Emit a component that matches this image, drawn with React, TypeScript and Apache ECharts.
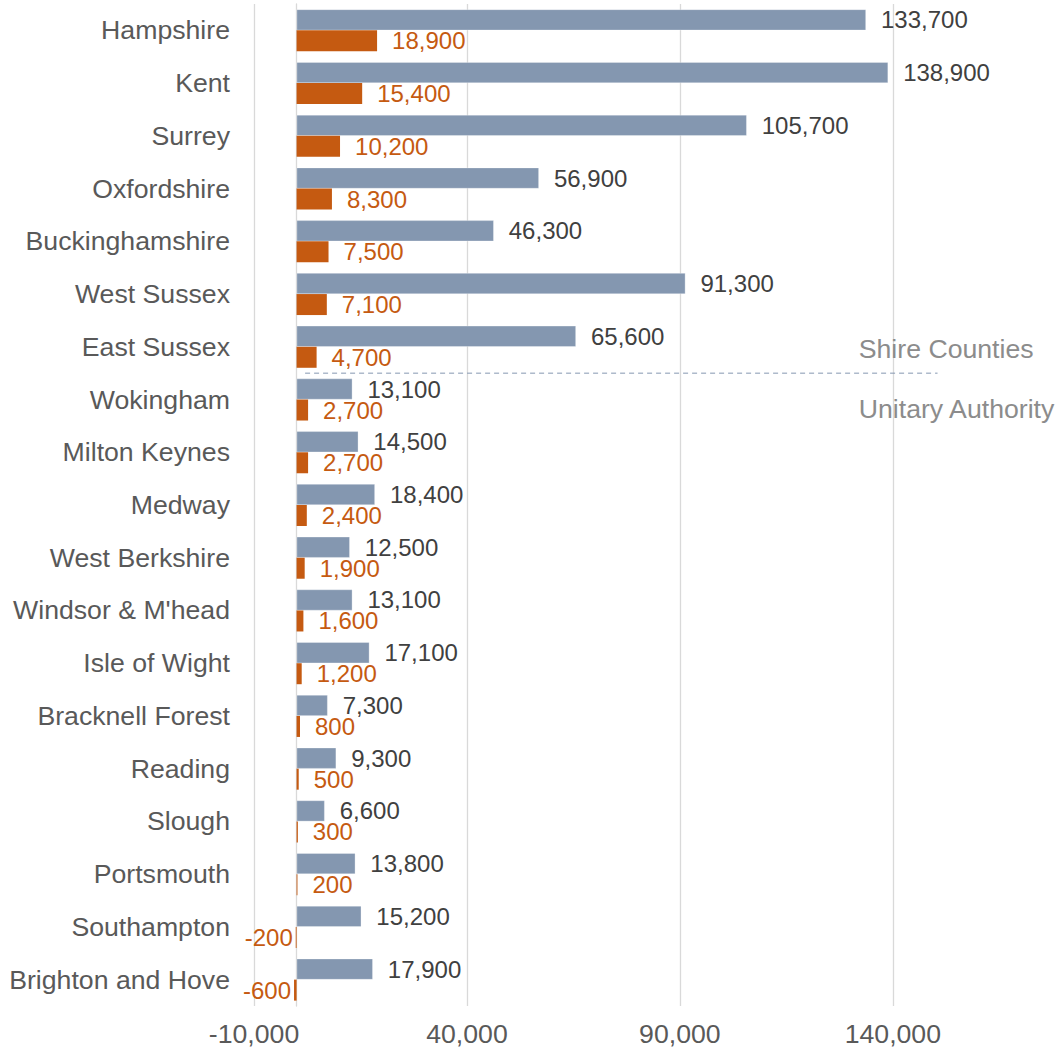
import React, { useEffect, useRef } from "react";
import * as echarts from "echarts";

const categories = [
  "Hampshire", "Kent", "Surrey", "Oxfordshire", "Buckinghamshire", "West Sussex", "East Sussex",
  "Wokingham", "Milton Keynes", "Medway", "West Berkshire", "Windsor & M'head", "Isle of Wight",
  "Bracknell Forest", "Reading", "Slough", "Portsmouth", "Southampton", "Brighton and Hove",
];
const greyValues = [133700, 138900, 105700, 56900, 46300, 91300, 65600, 13100, 14500, 18400, 12500, 13100, 17100, 7300, 9300, 6600, 13800, 15200, 17900];
const orangeValues = [18900, 15400, 10200, 8300, 7500, 7100, 4700, 2700, 2700, 2400, 1900, 1600, 1200, 800, 500, 300, 200, -200, -600];
const groupLabels = ["Shire Counties", "Unitary Authority"];
const groupBoundary = ["East Sussex", "Wokingham"];

const FONT = "Liberation Sans, Arial, sans-serif";
const fmt = (v: number) => v.toLocaleString("en-US");

export default function App() {
  const ref = useRef<HTMLDivElement>(null);
  useEffect(() => {
    document.body.style.margin = "0";
    const chart = echarts.init(ref.current!, undefined, { renderer: "svg" });
    chart.setOption({
      animation: false,
      grid: { left: 254, right: 78, top: 4, bottom: 46, containLabel: false },
      xAxis: {
        type: "value",
        min: -10000,
        max: 160000,
        interval: 50000,
        axisLine: { show: false },
        axisTick: { show: false },
        axisLabel: { formatter: (v: number) => fmt(v), color: "#595959", fontSize: 26.67, fontFamily: FONT, margin: 14, showMaxLabel: false },
        splitLine: { show: true, lineStyle: { color: "#D9D9D9", width: 1.3 }, showMaxLine: false },
      },
      yAxis: {
        type: "category",
        data: categories,
        inverse: true,
        axisLine: { show: true, onZero: true, lineStyle: { color: "#D9D9D9", width: 1.3 } },
        axisTick: { show: false },
        axisLabel: { color: "#595959", fontSize: 26.67, fontFamily: FONT, margin: 24 },
      },
      series: [
        {
          type: "bar",
          data: greyValues,
          barWidth: 21,
          barGap: "0%",
          itemStyle: { color: "#8497B0", borderColor: "rgba(255,255,255,0.5)", borderWidth: 0.6 },
          label: { show: true, position: "right", distance: 15, color: "#404040", fontSize: 24, fontFamily: FONT, formatter: (p: any) => fmt(p.value) },
        },
        {
          type: "bar",
          data: orangeValues.map((v) => v < 0 ? { value: v, label: { position: "left", distance: 3 } } : v),
          barWidth: 21,
          barGap: "0%",
          itemStyle: { color: "#C55A11" },
          label: { show: true, position: "right", distance: 15, color: "#C55A11", fontSize: 24, fontFamily: FONT, formatter: (p: any) => fmt(p.value) },
        },
      ],
    });
    const y1 = chart.convertToPixel({ yAxisIndex: 0 }, groupBoundary[0]) as number;
    const y2 = chart.convertToPixel({ yAxisIndex: 0 }, groupBoundary[1]) as number;
    const yMid = (y1 + y2) / 2;
    const xs = chart.convertToPixel({ xAxisIndex: 0 }, 2000) as number;
    const xe = chart.convertToPixel({ xAxisIndex: 0 }, 150500) as number;
    const xt = chart.convertToPixel({ xAxisIndex: 0 }, 132000) as number;
    chart.setOption({
      graphic: [
        { type: "line", shape: { x1: xs, y1: yMid, x2: xe, y2: yMid }, style: { stroke: "#8497B0", lineWidth: 1, lineDash: [5, 4] }, z: 10 },
        { type: "text", x: xt, y: y1 + 2, style: { text: groupLabels[0], fill: "#8C8C8C", font: `26.67px ${FONT}`, textVerticalAlign: "middle" }, z: 10 },
        { type: "text", x: xt, y: y2 + 9, style: { text: groupLabels[1], fill: "#8C8C8C", font: `26.67px ${FONT}`, textVerticalAlign: "middle" }, z: 10 },
      ],
    });
    return () => chart.dispose();
  }, []);
  return <div ref={ref} style={{ width: 1056, height: 1052 }} />;
}
